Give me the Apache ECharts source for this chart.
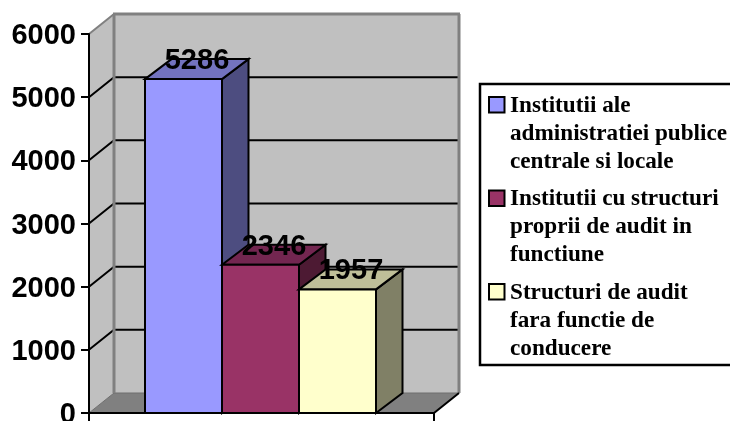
<!DOCTYPE html>
<html>
<head>
<meta charset="utf-8">
<style>html,body{margin:0;padding:0;background:#fff}#chart{width:730px;height:421px}</style>
<script src="https://cdn.jsdelivr.net/npm/echarts@6/dist/echarts.min.js"></script>
</head>
<body>
<div id="chart"></div>
<script>
// Institutions and audit structures, one clustered column group
const categories = [''];
const seriesNames = [
  'Institutii ale\nadministratiei publice\ncentrale si locale',
  'Institutii cu structuri\nproprii de audit in\nfunctiune',
  'Structuri de audit\nfara functie de\nconducere'
];
const seriesValues = [5286, 2346, 1957];
const frontColors = ['#9999FF', '#993366', '#FFFFCC'];
const topColors = ['#7373BF', '#732650', '#BFBF99'];
const sideColors = ['#4D4D80', '#4D1A33', '#808066'];
const yTicks = [0, 1000, 2000, 3000, 4000, 5000, 6000];

const WALL_DX = 25, WALL_DY = 20;
const BAR_W = 77, BAR_DX = 26.5, BAR_DY = 20;
const INK = '#000';
const GREY = '#808080';

// Square swatch in the top of a tall box, so it sits beside the first text line
const LEGEND_ICON = 'path://M0 5H15.5V20.5H0Z M0 0L0 0 M16 84L16 84';

function renderWalls(params, api) {
  const o = api.coord([0, 0]);
  const t = api.coord([0, 6000]);
  const size = api.size([1, 0]);
  const x0 = o[0] - size[0] / 2, x1 = o[0] + size[0] / 2;
  const y0 = o[1], yT = t[1];
  const dx = WALL_DX, dy = WALL_DY;
  const poly = (points, fill, stroke, lw) => ({
    type: 'polygon',
    shape: { points },
    style: { fill, stroke: stroke || null, lineWidth: lw || 0 }
  });
  const line = (a, b, stroke, lw) => ({
    type: 'polyline',
    shape: { points: [a, b] },
    style: { fill: null, stroke, lineWidth: lw }
  });
  const children = [
    poly([[x0 + dx, yT - dy], [x1 + dx, yT - dy], [x1 + dx, y0 - dy], [x0 + dx, y0 - dy]], '#C0C0C0'),
    poly([[x0, yT], [x0 + dx, yT - dy], [x0 + dx, y0 - dy], [x0, y0]], '#C0C0C0'),
    poly([[x0, y0], [x0 + dx, y0 - dy], [x1 + dx, y0 - dy], [x1, y0]], GREY, '#6E6E6E', 1)
  ];
  // Gridlines run along the side wall and across the back wall
  yTicks.slice(1, -1).forEach((v) => {
    const y = api.coord([0, v])[1];
    children.push({
      type: 'polyline',
      shape: { points: [[x0, y], [x0 + dx, y - dy], [x1 + dx, y - dy]] },
      style: { fill: null, stroke: INK, lineWidth: 2 }
    });
  });
  children.push(
    line([x0, yT], [x0 + dx, yT - dy], GREY, 2),
    line([x0 + dx, yT - dy], [x0 + dx, y0 - dy], GREY, 3),
    line([x0 + dx - 1, yT - dy], [x1 + dx + 1, yT - dy], GREY, 3),
    line([x1 + dx, yT - dy], [x1 + dx, y0 - dy], GREY, 3),
    line([x1 + dx, y0 - dy], [x1, y0], INK, 2)
  );
  return { type: 'group', children };
}

function renderBar(index) {
  return function (params, api) {
    const base = api.coord([0, 0]);
    const top = api.coord([0, api.value(1)]);
    const left = base[0] - 1 + (index - 1.5) * BAR_W;
    const right = left + BAR_W;
    const y0 = base[1], y1 = top[1];
    const dx = BAR_DX, dy = BAR_DY;
    const edge = { stroke: INK, lineWidth: 2, lineJoin: 'miter' };
    return {
      type: 'group',
      children: [
        { type: 'polygon', shape: { points: [[right, y1], [right + dx, y1 - dy], [right + dx, y0 - dy], [right, y0]] },
          style: Object.assign({ fill: sideColors[index] }, edge) },
        { type: 'polygon', shape: { points: [[left, y1], [left + dx, y1 - dy], [right + dx, y1 - dy], [right, y1]] },
          style: Object.assign({ fill: topColors[index] }, edge) },
        { type: 'rect', shape: { x: left, y: y1, width: BAR_W, height: y0 - y1 },
          style: Object.assign({ fill: frontColors[index] }, edge) },
        { type: 'text', z2: 20,
          style: {
            x: (left + right) / 2 + 13.5, y: y1 - 18,
            text: String(api.value(1)),
            fill: INK, align: 'center', verticalAlign: 'middle',
            font: 'bold 29px "Liberation Sans", Arial, sans-serif'
          } }
      ]
    };
  };
}

const series = [{
  type: 'custom',
  name: 'walls',
  z: 0,
  silent: true,
  renderItem: renderWalls,
  data: [[0, 0]],
  encode: { x: 0, y: 1 }
}];
seriesNames.forEach((name, i) => {
  series.push({
    type: 'custom',
    name,
    z: 2,
    renderItem: renderBar(i),
    itemStyle: { color: frontColors[i] },
    data: [[0, seriesValues[i]]],
    encode: { x: 0, y: 1 }
  });
});

const chart = echarts.init(document.getElementById('chart'), null, { renderer: 'canvas' });
chart.setOption({
  animation: false,
  backgroundColor: '#fff',
  grid: { left: 89, right: 296, top: 34, bottom: 8, outerBoundsMode: 'none' },
  xAxis: {
    type: 'category',
    data: categories,
    z: 1,
    axisLine: { lineStyle: { color: INK, width: 2 } },
    axisTick: { show: true, alignWithLabel: false, length: 8, lineStyle: { color: INK, width: 2 } },
    axisLabel: { show: false },
    splitLine: { show: false }
  },
  yAxis: {
    type: 'value',
    min: 0,
    max: 6000,
    interval: 1000,
    z: 1,
    axisLine: { show: true, lineStyle: { color: INK, width: 2 } },
    axisTick: { show: true, length: 8, lineStyle: { color: INK, width: 2 } },
    axisLabel: {
      margin: 13,
      color: INK,
      formatter: (v) => '{tick|' + v + '}',
      rich: {
        tick: {
          color: INK,
          fontFamily: '"Liberation Sans", Arial, sans-serif',
          fontWeight: 'bold',
          fontSize: 29,
          padding: [4, 0, 0, 0]
        }
      }
    },
    splitLine: { show: false }
  },
  legend: {
    orient: 'vertical',
    left: 480,
    top: 84,
    padding: [7, 10, 1, 8],
    itemGap: 7.5,
    itemWidth: 16,
    itemHeight: 84,
    symbolKeepAspect: false,
    selectedMode: false,
    backgroundColor: '#fff',
    borderColor: INK,
    borderWidth: 2.5,
    data: seriesNames.map((name, i) => ({
      name,
      icon: LEGEND_ICON,
      itemStyle: { color: frontColors[i], borderColor: INK, borderWidth: 2 }
    })),
    textStyle: {
      color: INK,
      fontFamily: '"Liberation Serif", "Times New Roman", serif',
      fontWeight: 'bold',
      fontSize: 23.2,
      lineHeight: 28
    }
  },
  series
});
</script>
</body>
</html>
